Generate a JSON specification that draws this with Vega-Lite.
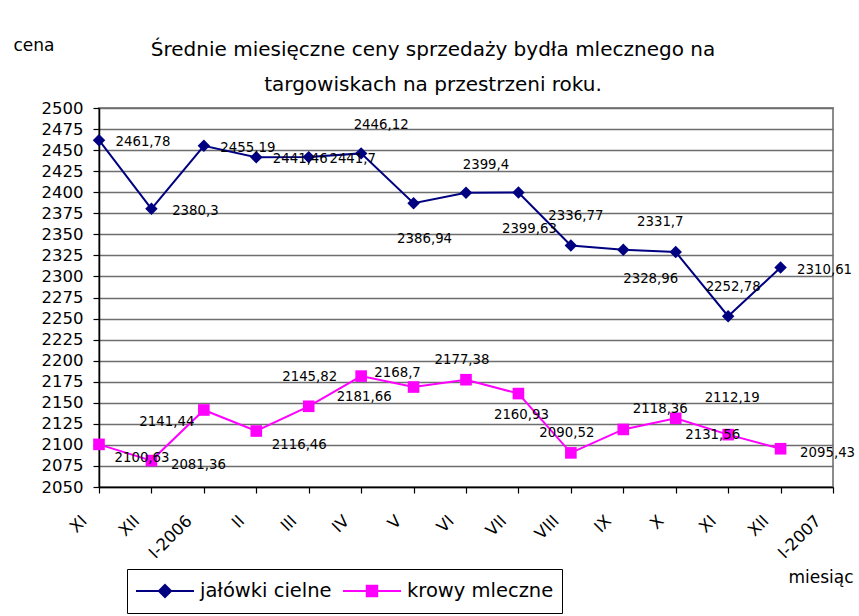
{
  "$schema": "https://vega.github.io/schema/vega-lite/v6.json",
  "width": 734,
  "height": 379,
  "autosize": {"type": "none"},
  "padding": {"left": 99, "top": 108, "right": 26, "bottom": 129},
  "background": "white",
  "config": {
    "font": "DejaVu Sans",
    "locale": {"number": {"decimal": ",", "thousands": "", "grouping": [3], "currency": ["", ""]}},
    "view": {"stroke": "#8c8c8c", "strokeWidth": 2},
    "text": {"fontSize": 13.3, "align": "center", "baseline": "middle"}
  },
  "title": {
    "text": ["Średnie miesięczne ceny sprzedaży bydła mlecznego na", "targowiskach na przestrzeni roku."],
    "fontSize": 20,
    "fontWeight": "normal",
    "lineHeight": 35,
    "anchor": "middle",
    "dx": -33,
    "dy": 63,
    "color": "black"
  },
  "data": {
    "values": [
      {"nr": 0, "miesiac": "XI", "seria": "jałówki cielne", "cena": 2461.78},
      {"nr": 1, "miesiac": "XII", "seria": "jałówki cielne", "cena": 2380.3},
      {"nr": 2, "miesiac": "I-2006", "seria": "jałówki cielne", "cena": 2455.19},
      {"nr": 3, "miesiac": "II", "seria": "jałówki cielne", "cena": 2441.46},
      {"nr": 4, "miesiac": "III", "seria": "jałówki cielne", "cena": 2441.7},
      {"nr": 5, "miesiac": "IV", "seria": "jałówki cielne", "cena": 2446.12},
      {"nr": 6, "miesiac": "V", "seria": "jałówki cielne", "cena": 2386.94},
      {"nr": 7, "miesiac": "VI", "seria": "jałówki cielne", "cena": 2399.4},
      {"nr": 8, "miesiac": "VII", "seria": "jałówki cielne", "cena": 2399.63},
      {"nr": 9, "miesiac": "VIII", "seria": "jałówki cielne", "cena": 2336.77},
      {"nr": 10, "miesiac": "IX", "seria": "jałówki cielne", "cena": 2331.7},
      {"nr": 11, "miesiac": "X", "seria": "jałówki cielne", "cena": 2328.96},
      {"nr": 12, "miesiac": "XI", "seria": "jałówki cielne", "cena": 2252.78},
      {"nr": 13, "miesiac": "XII", "seria": "jałówki cielne", "cena": 2310.61},
      {"nr": 0, "miesiac": "XI", "seria": "krowy mleczne", "cena": 2100.63},
      {"nr": 1, "miesiac": "XII", "seria": "krowy mleczne", "cena": 2081.36},
      {"nr": 2, "miesiac": "I-2006", "seria": "krowy mleczne", "cena": 2141.44},
      {"nr": 3, "miesiac": "II", "seria": "krowy mleczne", "cena": 2116.46},
      {"nr": 4, "miesiac": "III", "seria": "krowy mleczne", "cena": 2145.82},
      {"nr": 5, "miesiac": "IV", "seria": "krowy mleczne", "cena": 2181.66},
      {"nr": 6, "miesiac": "V", "seria": "krowy mleczne", "cena": 2168.7},
      {"nr": 7, "miesiac": "VI", "seria": "krowy mleczne", "cena": 2177.38},
      {"nr": 8, "miesiac": "VII", "seria": "krowy mleczne", "cena": 2160.93},
      {"nr": 9, "miesiac": "VIII", "seria": "krowy mleczne", "cena": 2090.52},
      {"nr": 10, "miesiac": "IX", "seria": "krowy mleczne", "cena": 2118.36},
      {"nr": 11, "miesiac": "X", "seria": "krowy mleczne", "cena": 2131.56},
      {"nr": 12, "miesiac": "XI", "seria": "krowy mleczne", "cena": 2112.19},
      {"nr": 13, "miesiac": "XII", "seria": "krowy mleczne", "cena": 2095.43}
    ]
  },
  "encoding": {
    "x": {
      "field": "nr",
      "type": "quantitative",
      "scale": {"domain": [0, 14], "nice": false, "zero": false},
      "axis": {
        "values": [0, 1, 2, 3, 4, 5, 6, 7, 8, 9, 10, 11, 12, 13, 14],
        "labelExpr": "['XI','XII','I-2006','II','III','IV','V','VI','VII','VIII','IX','X','XI','XII','I-2007'][datum.value]",
        "grid": false,
        "domainColor": "black",
        "domainWidth": 1.5,
        "tickColor": "black",
        "tickSize": 6,
        "tickWidth": 1.2,
        "labelAngle": -45,
        "labelAlign": "right",
        "labelBaseline": "middle",
        "labelOffset": -15,
        "labelPadding": 25,
        "labelFontSize": 16.5,
        "labelColor": "black",
        "labelFlush": false,
        "labelOverlap": false,
        "labelBound": false,
        "title": "miesiąc",
        "titleFontSize": 17,
        "titleFontWeight": "normal",
        "titleColor": "black",
        "titleX": 689,
        "titleY": 95,
        "titleAlign": "left",
        "titleBaseline": "alphabetic",
        "titleAnchor": "start"
      }
    },
    "y": {
      "field": "cena",
      "type": "quantitative",
      "scale": {"domain": [2050, 2500], "nice": false, "zero": false},
      "axis": {
        "values": [2050, 2075, 2100, 2125, 2150, 2175, 2200, 2225, 2250, 2275, 2300, 2325, 2350, 2375, 2400, 2425, 2450, 2475, 2500],
        "format": "d",
        "grid": true,
        "gridColor": "#6e6e6e",
        "gridWidth": 1.4,
        "domainColor": "black",
        "domainWidth": 1.5,
        "tickColor": "black",
        "tickSize": 6,
        "tickWidth": 1.2,
        "labelFontSize": 16.5,
        "labelColor": "black",
        "labelPadding": 10,
        "labelFlush": false,
        "labelOverlap": false,
        "title": "cena",
        "titleAngle": 0,
        "titleFontSize": 17,
        "titleFontWeight": "normal",
        "titleColor": "black",
        "titleX": -86,
        "titleY": -58,
        "titleAlign": "left",
        "titleBaseline": "alphabetic"
      }
    },
    "color": {
      "field": "seria",
      "type": "nominal",
      "scale": {"domain": ["jałówki cielne", "krowy mleczne"], "range": ["#000080", "#ff00ff"]},
      "legend": {
        "orient": "none",
        "legendX": 28,
        "legendY": 461,
        "direction": "horizontal",
        "title": null,
        "strokeColor": "black",
        "fillColor": "white",
        "padding": 8,
        "symbolSize": 3364,
        "clipHeight": 28,
        "symbolStrokeWidth": 2,
        "labelFontSize": 19.5,
        "labelColor": "black",
        "labelOffset": 5,
        "columnPadding": 10,
        "encode": {
          "symbols": {
            "update": {
              "shape": {"signal": "datum.value == 'jałówki cielne' ? 'M-1,0H1M0,-0.21L0.21,0L0,0.21L-0.21,0Z' : 'M-1,0H1M-0.18,-0.18H0.18V0.18H-0.18Z'"},
              "fill": {"signal": "datum.value == 'jałówki cielne' ? '#000080' : '#ff00ff'"},
              "stroke": {"signal": "datum.value == 'jałówki cielne' ? '#000080' : '#ff00ff'"}
            }
          }
        }
      }
    }
  },
  "layer": [
    {
      "mark": {"type": "line", "strokeWidth": 2}
    },
    {
      "transform": [{"filter": {"field": "seria", "equal": "jałówki cielne"}}],
      "mark": {"type": "point", "filled": true, "size": 155, "opacity": 1, "shape": "diamond"}
    },
    {
      "transform": [{"filter": {"field": "seria", "equal": "krowy mleczne"}}],
      "mark": {"type": "point", "filled": true, "size": 135, "opacity": 1, "shape": "square"}
    },
    {
      "transform": [{"filter": {"and": [{"field": "seria", "equal": "jałówki cielne"}, {"field": "nr", "oneOf": [0, 1, 2, 3, 4, 13]}]}}],
      "mark": {"type": "text", "dx": 44, "dy": 2},
      "encoding": {"text": {"field": "cena", "type": "quantitative", "format": ".6~r"}, "color": {"value": "black"}}
    },
    {
      "transform": [{"filter": {"and": [{"field": "seria", "equal": "jałówki cielne"}, {"field": "nr", "oneOf": [5, 7]}]}}],
      "mark": {"type": "text", "dx": 20, "dy": -28},
      "encoding": {"text": {"field": "cena", "type": "quantitative", "format": ".6~r"}, "color": {"value": "black"}}
    },
    {
      "transform": [{"filter": {"and": [{"field": "seria", "equal": "jałówki cielne"}, {"field": "nr", "oneOf": [9, 12]}]}}],
      "mark": {"type": "text", "dx": 5, "dy": -29},
      "encoding": {"text": {"field": "cena", "type": "quantitative", "format": ".6~r"}, "color": {"value": "black"}}
    },
    {
      "transform": [{"filter": {"and": [{"field": "seria", "equal": "jałówki cielne"}, {"field": "nr", "oneOf": [10]}]}}],
      "mark": {"type": "text", "dx": 37, "dy": -28},
      "encoding": {"text": {"field": "cena", "type": "quantitative", "format": ".6~r"}, "color": {"value": "black"}}
    },
    {
      "transform": [{"filter": {"and": [{"field": "seria", "equal": "jałówki cielne"}, {"field": "nr", "oneOf": [6, 8]}]}}],
      "mark": {"type": "text", "dx": 11, "dy": 36},
      "encoding": {"text": {"field": "cena", "type": "quantitative", "format": ".6~r"}, "color": {"value": "black"}}
    },
    {
      "transform": [{"filter": {"and": [{"field": "seria", "equal": "jałówki cielne"}, {"field": "nr", "oneOf": [11]}]}}],
      "mark": {"type": "text", "dx": -25, "dy": 27},
      "encoding": {"text": {"field": "cena", "type": "quantitative", "format": ".6~r"}, "color": {"value": "black"}}
    },
    {
      "transform": [{"filter": {"and": [{"field": "seria", "equal": "krowy mleczne"}, {"field": "nr", "oneOf": [1, 13]}]}}],
      "mark": {"type": "text", "dx": 47, "dy": 4},
      "encoding": {"text": {"field": "cena", "type": "quantitative", "format": ".6~r"}, "color": {"value": "black"}}
    },
    {
      "transform": [{"filter": {"and": [{"field": "seria", "equal": "krowy mleczne"}, {"field": "nr", "oneOf": [0, 3]}]}}],
      "mark": {"type": "text", "dx": 43, "dy": 14},
      "encoding": {"text": {"field": "cena", "type": "quantitative", "format": ".6~r"}, "color": {"value": "black"}}
    },
    {
      "transform": [{"filter": {"and": [{"field": "seria", "equal": "krowy mleczne"}, {"field": "nr", "oneOf": [2]}]}}],
      "mark": {"type": "text", "dx": -37, "dy": 12},
      "encoding": {"text": {"field": "cena", "type": "quantitative", "format": ".6~r"}, "color": {"value": "black"}}
    },
    {
      "transform": [{"filter": {"and": [{"field": "seria", "equal": "krowy mleczne"}, {"field": "nr", "oneOf": [4]}]}}],
      "mark": {"type": "text", "dx": 1, "dy": -29},
      "encoding": {"text": {"field": "cena", "type": "quantitative", "format": ".6~r"}, "color": {"value": "black"}}
    },
    {
      "transform": [{"filter": {"and": [{"field": "seria", "equal": "krowy mleczne"}, {"field": "nr", "oneOf": [7, 9]}]}}],
      "mark": {"type": "text", "dx": -4, "dy": -20},
      "encoding": {"text": {"field": "cena", "type": "quantitative", "format": ".6~r"}, "color": {"value": "black"}}
    },
    {
      "transform": [{"filter": {"and": [{"field": "seria", "equal": "krowy mleczne"}, {"field": "nr", "oneOf": [5, 8]}]}}],
      "mark": {"type": "text", "dx": 3, "dy": 21},
      "encoding": {"text": {"field": "cena", "type": "quantitative", "format": ".6~r"}, "color": {"value": "black"}}
    },
    {
      "transform": [{"filter": {"and": [{"field": "seria", "equal": "krowy mleczne"}, {"field": "nr", "oneOf": [6]}]}}],
      "mark": {"type": "text", "dx": -16, "dy": -14},
      "encoding": {"text": {"field": "cena", "type": "quantitative", "format": ".6~r"}, "color": {"value": "black"}}
    },
    {
      "transform": [{"filter": {"and": [{"field": "seria", "equal": "krowy mleczne"}, {"field": "nr", "oneOf": [10]}]}}],
      "mark": {"type": "text", "dx": 37, "dy": -20},
      "encoding": {"text": {"field": "cena", "type": "quantitative", "format": ".6~r"}, "color": {"value": "black"}}
    },
    {
      "transform": [{"filter": {"and": [{"field": "seria", "equal": "krowy mleczne"}, {"field": "nr", "oneOf": [11]}]}}],
      "mark": {"type": "text", "dx": 37, "dy": 17},
      "encoding": {"text": {"field": "cena", "type": "quantitative", "format": ".6~r"}, "color": {"value": "black"}}
    },
    {
      "transform": [{"filter": {"and": [{"field": "seria", "equal": "krowy mleczne"}, {"field": "nr", "oneOf": [12]}]}}],
      "mark": {"type": "text", "dx": 4, "dy": -37},
      "encoding": {"text": {"field": "cena", "type": "quantitative", "format": ".6~r"}, "color": {"value": "black"}}
    }
  ]
}
